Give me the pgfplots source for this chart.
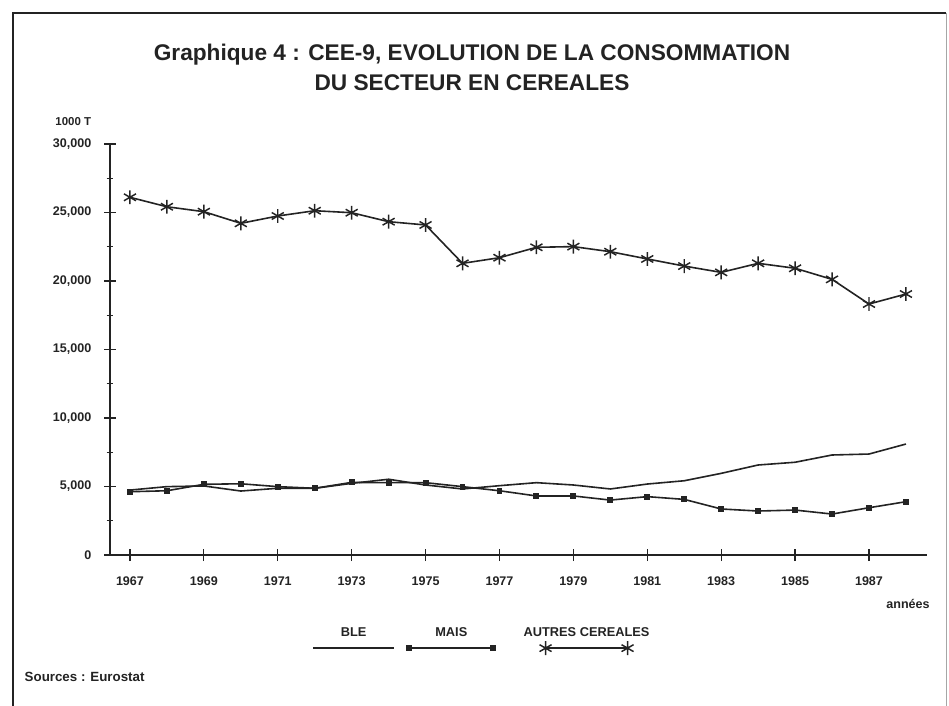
\documentclass[border=0pt]{standalone}
\usepackage{fontspec}
\setmainfont{Liberation Sans}
\usepackage{pgfplots}
\pgfplotsset{compat=1.18}

\definecolor{ink}{RGB}{35,35,35}
\newcommand{\legfont}{\bfseries\fontsize{9.6}{11}\selectfont}

\pgfplotsset{
  legble/.style={legend image code/.code={%
      \draw[##1] (0pt,0pt) -- (61pt,0pt);
      \node[anchor=base, font=\legfont, text=ink] at (30.5pt,9pt) {BLE};}},
  legmais/.style={legend image code/.code={%
      \draw[##1] plot coordinates {(0pt,0pt) (63pt,0pt)};
      \node[anchor=base, font=\legfont, text=ink] at (31.5pt,9pt) {MAIS};}},
  legautres/.style={legend image code/.code={%
      \path (-28pt,0pt);
      \draw[##1] plot coordinates {(0pt,0pt) (61.5pt,0pt)};
      \node[anchor=base, font=\legfont, text=ink] at (30.75pt,9pt) {AUTRES CEREALES};}},
}

\begin{document}
\begin{tikzpicture}
\useasboundingbox (0pt,0pt) rectangle (711.75pt,-529.5pt);
% cadre
\draw[ink, line width=1.3pt] (9.75pt,-529.5pt) -- (9.75pt,-9.75pt) -- (709.8pt,-9.75pt);
\draw[black!35, line width=0.6pt] (709.8pt,-9.75pt) -- (709.8pt,-529.5pt);

\begin{axis}[
  at={(82.5pt,-416.25pt)}, anchor=south west,
  scale only axis, width=612.75pt, height=308.25pt,
  xmin=1966.46, xmax=1988.57,
  ymin=0, ymax=30000,
  axis x line=bottom, axis y line=left,
  axis line style={-, ink, line width=1.5pt},
  xtick={1967,1969,...,1987},
  ytick={0,5000,...,30000},
  scaled y ticks=false,
  minor y tick num=1,
  tick align=center,
  major tick length=9pt, minor tick length=5pt,
  every tick/.style={ink, line width=0.9pt},
  tick label style={font=\bfseries\fontsize{9.4}{11}\selectfont, text=ink},
  /pgf/number format/assume math mode=true,
  xticklabel style={/pgf/number format/1000 sep=, yshift=-8pt},
  yticklabel style={/pgf/number format/fixed, /pgf/number format/1000 sep={,}, xshift=-6pt},
  clip=false,
  legend style={at={(0.2472,-0.175)}, anchor=north west, draw=none, fill=none,
    inner sep=0pt, column sep=0pt, nodes={inner sep=0pt},
    /tikz/every even column/.append style={column sep=8pt}},
  legend columns=3,
]
% BLE
\addplot[ink, line width=1.2pt, legble] coordinates {
  (1967,4740) (1968,4990) (1969,5040) (1970,4670) (1971,4870) (1972,4870)
  (1973,5230) (1974,5530) (1975,5110) (1976,4820) (1977,5060) (1978,5280)
  (1979,5110) (1980,4820) (1981,5180) (1982,5420) (1983,5960) (1984,6570)
  (1985,6770) (1986,7300) (1987,7370) (1988,8100)};
\addlegendentry{}
% MAIS
\addplot[ink, line width=1.2pt, mark=square*, mark size=1.6pt, legmais] coordinates {
  (1967,4620) (1968,4690) (1969,5160) (1970,5200) (1971,4990) (1972,4870)
  (1973,5300) (1974,5280) (1975,5280) (1976,4990) (1977,4690) (1978,4310)
  (1979,4310) (1980,4010) (1981,4260) (1982,4060) (1983,3360) (1984,3210)
  (1985,3280) (1986,2990) (1987,3450) (1988,3890)};
\addlegendentry{}
% AUTRES CEREALES
\addplot[ink, line width=1.2pt, mark=asterisk, mark size=5.2pt,
  mark options={line width=1.1pt}, legautres] coordinates {
  (1967,26110) (1968,25420) (1969,25060) (1970,24210) (1971,24745) (1972,25130)
  (1973,24985) (1974,24330) (1975,24090) (1976,21290) (1977,21700) (1978,22460)
  (1979,22510) (1980,22140) (1981,21610) (1982,21090) (1983,20630) (1984,21290)
  (1985,20930) (1986,20120) (1987,18320) (1988,19050)};
\addlegendentry{}
\end{axis}

% textes
\node[font=\bfseries\fontsize{17}{20}\selectfont, text=ink] at (354pt,-41.25pt)
  {Graphique 4 : CEE-9, EVOLUTION DE LA CONSOMMATION};
\node[font=\bfseries\fontsize{17}{20}\selectfont, text=ink] at (354pt,-62.25pt)
  {DU SECTEUR EN CEREALES};
\node[anchor=west, font=\bfseries\fontsize{8.6}{10}\selectfont, text=ink] at (38pt,-91pt) {1000 T};
\node[font=\bfseries\fontsize{9.4}{11}\selectfont, text=ink] at (681pt,-453pt) {années};
\node[anchor=west, font=\bfseries\fontsize{10}{12}\selectfont, text=ink] at (15pt,-507.75pt) {Sources : Eurostat};
\end{tikzpicture}
\end{document}
